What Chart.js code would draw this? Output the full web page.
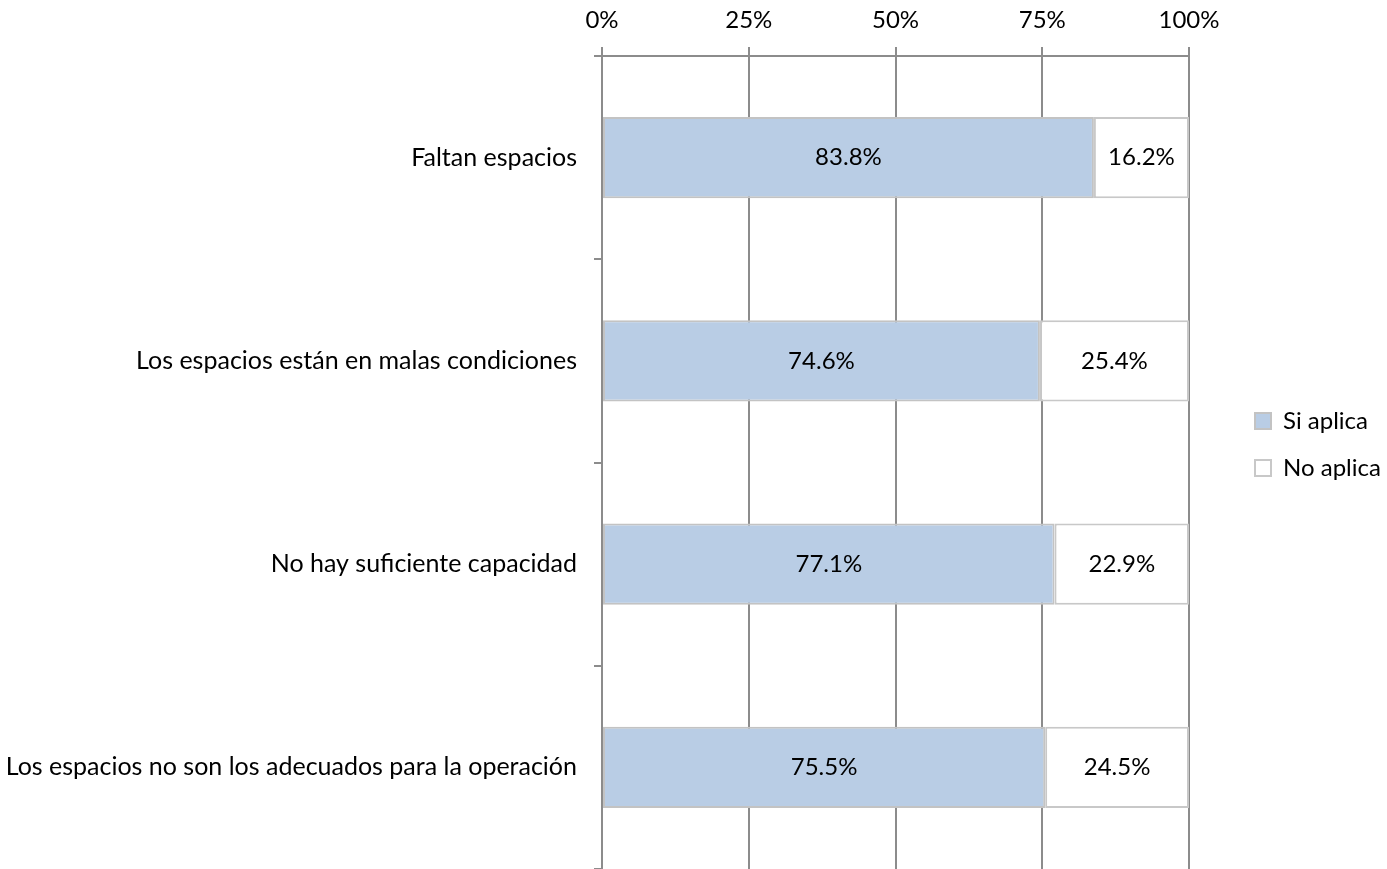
<!DOCTYPE html>
<html>
<head>
<meta charset="utf-8">
<script src="https://cdn.jsdelivr.net/npm/chart.js@4"></script>
<style>
  body { margin: 0; background: #fff; }
  #wrap { width: 1387px; height: 869px; }
</style>
</head>
<body>
<div id="wrap"><canvas id="chart"></canvas></div>
<script>
const categories = [
  "Faltan espacios",
  "Los espacios están en malas condiciones",
  "No hay suficiente capacidad",
  "Los espacios no son los adecuados para la operación"
];
const siAplica = [83.8, 74.6, 77.1, 75.5];
const noAplica = [16.2, 25.4, 22.9, 24.5];
const xTicks = [0, 25, 50, 75, 100];

const FONT = "Lato, 'Open Sans', sans-serif";

// labels in the middle of each segment
const segmentLabels = {
  id: "segmentLabels",
  afterDatasetsDraw(chart) {
    const ctx = chart.ctx;
    ctx.save();
    ctx.font = `24px ${FONT}`;
    ctx.fillStyle = "#000";
    ctx.textAlign = "center";
    ctx.textBaseline = "middle";
    chart.data.datasets.forEach((ds, i) => {
      chart.getDatasetMeta(i).data.forEach((bar, j) => {
        const p = bar.getCenterPoint();
        ctx.fillText(ds.data[j].toFixed(1) + "%", p.x, p.y);
      });
    });
    ctx.restore();
  }
};

// nudge the legend to where it sits in the original
const moveLegend = {
  id: "moveLegend",
  afterLayout(chart) {
    const lg = chart.legend;
    lg.left += 43; lg.right += 43;
    lg.top += 10; lg.bottom += 10;
  }
};

const ctx = document.getElementById("chart").getContext("2d");
new Chart(ctx, {
  type: "bar",
  data: {
    labels: categories,
    datasets: [
      { label: "Si aplica", data: siAplica, backgroundColor: "#b9cde5", borderColor: "#c3c3c3", borderWidth: 2, borderSkipped: false, barPercentage: 0.4, categoryPercentage: 1 },
      { label: "No aplica", data: noAplica, backgroundColor: "#ffffff", borderColor: "#c8c8c8", borderWidth: 2, borderSkipped: false, barPercentage: 0.4, categoryPercentage: 1 }
    ]
  },
  options: {
    indexAxis: "y",
    responsive: true,
    maintainAspectRatio: false,
    animation: false,
    layout: { padding: 0 },
    plugins: {
      legend: {
        position: "right",
        labels: {
          boxWidth: 16,
          boxHeight: 16,
          padding: 23,
          color: "#000",
          font: { family: FONT, size: 24 }
        }
      },
      tooltip: { enabled: false }
    },
    scales: {
      x: {
        position: "top",
        stacked: true,
        min: 0,
        max: 100,
        afterBuildTicks: s => { s.ticks = xTicks.map(v => ({ value: v })); },
        afterFit: s => { s.height = 56; s.paddingRight = 198; s.paddingLeft = 0; },
        ticks: {
          color: "#000",
          font: { family: FONT, size: 24 },
          padding: 12,
          callback: v => v + "%"
        },
        grid: { color: "#8c8c8c", lineWidth: 2, tickLength: 9 },
        border: { color: "#8c8c8c", width: 2 }
      },
      y: {
        stacked: true,
        afterFit: s => { s.width = 602; s.paddingTop = 0; s.paddingBottom = 0; },
        ticks: {
          color: "#000",
          font: { family: FONT, size: 25 },
          padding: 17
        },
        grid: { drawOnChartArea: false, color: "#8c8c8c", lineWidth: 2, tickLength: 8, offset: true },
        border: { color: "#8c8c8c", width: 2 }
      }
    }
  },
  plugins: [segmentLabels, moveLegend]
});
</script>
</body>
</html>
